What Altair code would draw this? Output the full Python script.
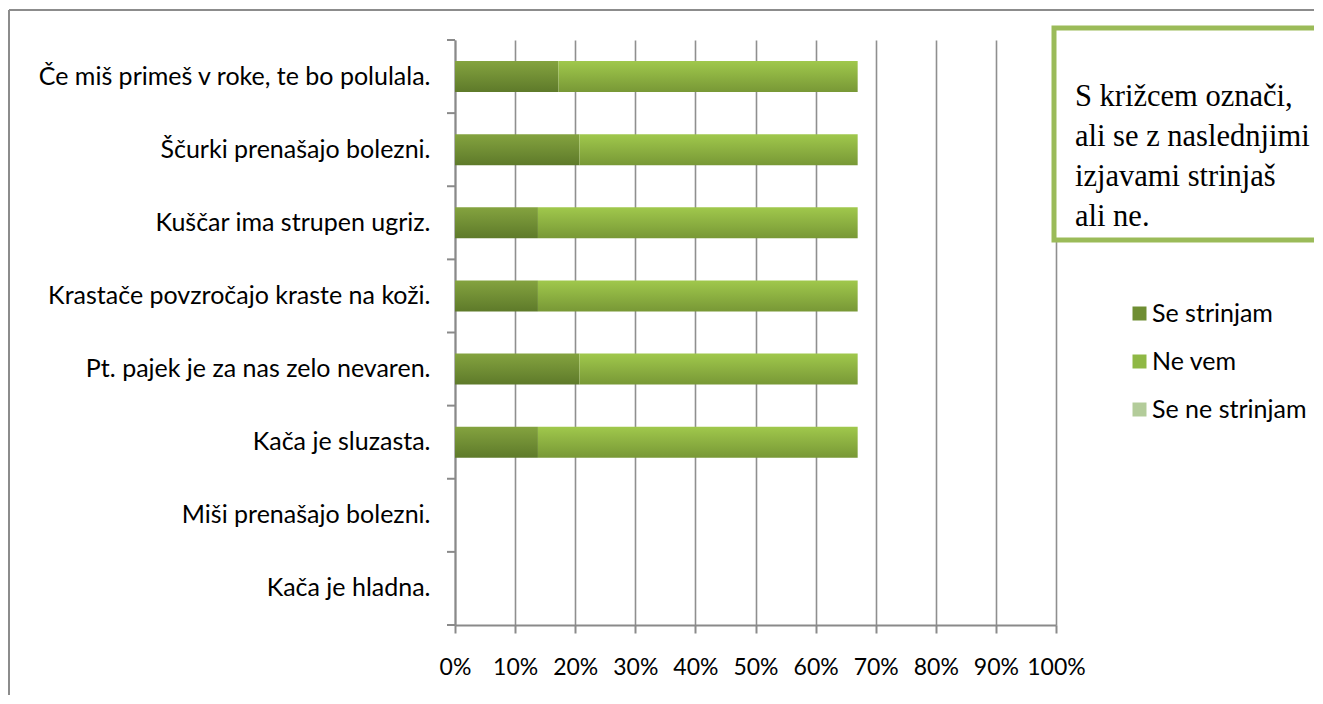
import altair as alt
import pandas as pd

statements = [
    "Če miš primeš v roke, te bo polulala.",
    "Ščurki prenašajo bolezni.",
    "Kuščar ima strupen ugriz.",
    "Krastače povzročajo kraste na koži.",
    "Pt. pajek je za nas zelo nevaren.",
    "Kača je sluzasta.",
    "Miši prenašajo bolezni.",
    "Kača je hladna.",
]
se_strinjam = [0.172, 0.207, 0.138, 0.138, 0.207, 0.138, 0.0, 0.0]
ne_vem = [0.498, 0.463, 0.532, 0.532, 0.463, 0.532, 0.0, 0.0]
series_names = ["Se strinjam", "Ne vem", "Se ne strinjam"]
series_colors = ["#6f8e33", "#8fb845", "#b3cc9a"]
x_ticks = [0, 0.1, 0.2, 0.3, 0.4, 0.5, 0.6, 0.7, 0.8, 0.9, 1.0]
box_lines = ["S križcem označi,", "ali se z naslednjimi", "izjavami strinjaš", "ali ne."]

rows = []
for i, s in enumerate(statements):
    rows.append({"statement": s, "series": series_names[0], "order": 0, "value": se_strinjam[i]})
    rows.append({"statement": s, "series": series_names[1], "order": 1, "value": ne_vem[i]})
df = pd.DataFrame(rows)
one = pd.DataFrame({"k": [0]})

FONT = "Lato"
AX = "#8a8a8a"
P_IN = 0.576
H = 585
STEP = H / len(statements)

y_scale = alt.Scale(domain=statements, paddingInner=P_IN, paddingOuter=P_IN / 2)
y_axis = alt.Axis(title=None, ticks=False, domain=True, domainColor=AX, domainWidth=2,
                  labelFont=FONT, labelFontSize=25, labelColor="black", labelPadding=25,
                  labelLimit=600, grid=False)
y_enc = alt.Y("statement:N", sort=statements, scale=y_scale, axis=y_axis)
x_scale = alt.Scale(domain=[0, 1], nice=False, zero=True)
x_enc = alt.X(
    "x0:Q", scale=x_scale,
    axis=alt.Axis(title=None, values=x_ticks, format=".0%", grid=True, gridColor="#8f8f8f",
                  gridWidth=1.6, domainColor=AX, domainWidth=2, tickColor=AX, tickWidth=2,
                  tickSize=8, labelFont=FONT, labelFontSize=23, labelColor="black",
                  labelPadding=23, labelOverlap=False, labelFlush=False),
)

base = alt.Chart(df).transform_stack(
    stack="value", groupby=["statement"], as_=["x0", "x1"],
    sort=[alt.SortField("order", order="ascending")],
)

grad_dark = alt.Gradient(gradient="linear", x1=0, x2=0, y1=0, y2=1,
                         stops=[alt.GradientStop(color="#84a33f", offset=0),
                                alt.GradientStop(color="#5e7a2a", offset=1)])
grad_light = alt.Gradient(gradient="linear", x1=0, x2=0, y1=0, y2=1,
                          stops=[alt.GradientStop(color="#a0c84c", offset=0),
                                 alt.GradientStop(color="#789836", offset=1)])

legend_layer = base.mark_bar(opacity=0).encode(
    x=x_enc, x2="x1:Q", y=y_enc,
    color=alt.Color("series:N",
                    scale=alt.Scale(domain=series_names, range=series_colors),
                    legend=alt.Legend(title=None, orient="none", legendX=672, legendY=261,
                                      symbolType="square", symbolSize=196, symbolOpacity=1,
                                      symbolStrokeWidth=0, labelFont=FONT, labelFontSize=25,
                                      labelColor="black", rowPadding=22, labelOffset=0)),
)

dark = base.transform_filter(alt.datum.series == series_names[0]).mark_bar(fill=grad_dark).encode(
    x=x_enc, x2="x1:Q", y=y_enc)
light = base.transform_filter(alt.datum.series == series_names[1]).mark_bar(fill=grad_light).encode(
    x=x_enc, x2="x1:Q", y=y_enc)

ticks = alt.Chart(pd.DataFrame({"statement": statements})).mark_rule(
    color=AX, strokeWidth=2, yOffset=-(P_IN / 2) * STEP
).encode(
    y=alt.Y("statement:N", sort=statements, scale=y_scale, axis=y_axis, bandPosition=0),
    x=alt.value(-8), x2=alt.value(0),
)
bottom_tick = alt.Chart(one).mark_rule(color=AX, strokeWidth=2).encode(
    x=alt.value(-8), x2=alt.value(0), y=alt.value(H))

frame_left = alt.Chart(one).mark_rule(color="#8c8c8c", strokeWidth=2).encode(
    x=alt.value(-446), y=alt.value(-30), y2=alt.value(720))
frame_top = alt.Chart(one).mark_rule(color="#8c8c8c", strokeWidth=2).encode(
    x=alt.value(-446), x2=alt.value(900), y=alt.value(-30))

box = alt.Chart(one).mark_rect(fill="white", stroke="#9bbb59", strokeWidth=5).encode(
    x=alt.value(599), x2=alt.value(900), y=alt.value(-12), y2=alt.value(200))
box_text = alt.Chart(one).mark_text(font="Liberation Serif", fontSize=30.5, align="left",
                                    baseline="alphabetic", lineHeight=40, color="black").encode(
    x=alt.value(620), y=alt.value(66), text=alt.value(box_lines))

chart = alt.layer(
    frame_left, frame_top, legend_layer, dark, light, ticks, bottom_tick, box, box_text
).properties(
    width=601, height=H,
    autosize=alt.AutoSizeParams(type="none"),
    padding={"left": 447, "top": 32, "right": 258, "bottom": 70},
).configure_view(strokeOpacity=0)

chart.save("out.html", embed_options={"renderer": "svg", "actions": False})
